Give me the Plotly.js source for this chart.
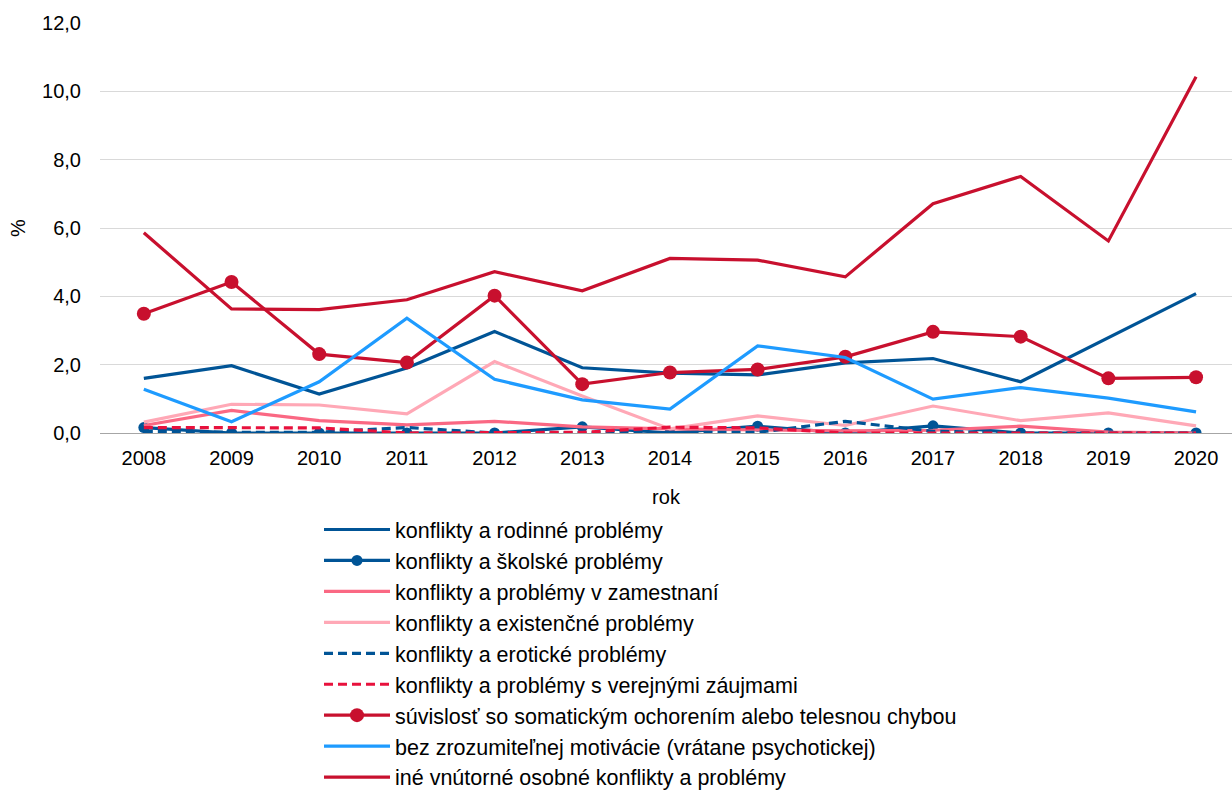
<!DOCTYPE html>
<html>
<head>
<meta charset="utf-8">
<script src="https://cdn.plot.ly/plotly-3.0.1.min.js"></script>
<style>
html,body{margin:0;padding:0;overflow:hidden;background:#fff;}
#chart{width:1232px;height:830px;}
</style>
</head>
<body>
<div id="chart"></div>
<script>
const years = ["2008","2009","2010","2011","2012","2013","2014","2015","2016","2017","2018","2019","2020"];

const rodinne      = [1.60, 1.97, 1.14, 1.90, 2.97, 1.91, 1.75, 1.70, 2.05, 2.18, 1.50, 2.80, 4.08];
const skolske      = [0.16, 0.00, 0.00, 0.00, 0.00, 0.18, 0.00, 0.20, 0.00, 0.21, 0.00, 0.00, 0.00];
const zamestnani   = [0.22, 0.66, 0.36, 0.24, 0.34, 0.18, 0.12, 0.08, 0.06, 0.08, 0.20, 0.03, 0.00];
const existencne   = [0.32, 0.84, 0.82, 0.56, 2.09, 1.08, 0.12, 0.50, 0.22, 0.79, 0.36, 0.59, 0.21];
const eroticke     = [0.05, 0.02, 0.02, 0.16, 0.00, 0.00, 0.00, 0.02, 0.34, 0.05, 0.00, 0.00, 0.00];
const verejne      = [0.16, 0.16, 0.15, 0.00, 0.00, 0.02, 0.17, 0.15, 0.00, 0.00, 0.00, 0.00, 0.00];
const somaticke    = [3.49, 4.42, 2.31, 2.06, 4.02, 1.43, 1.77, 1.86, 2.23, 2.96, 2.82, 1.60, 1.63];
const bezMotivacie = [1.28, 0.33, 1.50, 3.36, 1.57, 0.97, 0.70, 2.55, 2.21, 0.99, 1.33, 1.02, 0.62];
const ine          = [5.86, 3.63, 3.61, 3.90, 4.72, 4.16, 5.11, 5.06, 4.57, 6.71, 7.51, 5.62, 10.43];

const names = [
  "konflikty a rodinné problémy",
  "konflikty a školské problémy",
  "konflikty a problémy v zamestnaní",
  "konflikty a existenčné problémy",
  "konflikty a erotické problémy",
  "konflikty a problémy s verejnými záujmami",
  "súvislosť so somatickým ochorením alebo telesnou chybou",
  "bez zrozumiteľnej motivácie (vrátane psychotickej)",
  "iné vnútorné osobné konflikty a problémy"
];
const yTitle = "%";
const xTitle = "rok";

const DARKBLUE = "#005496", PINK = "#FA6883", LIGHTPINK = "#FFA8B6",
      REDDASH = "#E8113C", CRIMSON = "#C8102E", LIGHTBLUE = "#1E9BFF";

function tr(i, y, color, opts) {
  opts = opts || {};
  const t = {
    x: years, y: y, name: names[i], type: "scatter",
    mode: opts.marker ? "lines+markers" : "lines",
    line: {color: color, width: 3.2, dash: opts.dash || "solid"},
    legendgroup: "g" + i,
    hoverinfo: "skip"
  };
  if (opts.marker) t.marker = {color: color, size: opts.marker};
  return t;
}

const data = [
  tr(0, rodinne, DARKBLUE),
  tr(1, skolske, DARKBLUE, {marker: 11}),
  tr(2, zamestnani, PINK),
  tr(3, existencne, LIGHTPINK),
  tr(4, eroticke, DARKBLUE, {dash: "9px,5px"}),
  tr(5, verejne, REDDASH, {dash: "9px,5px"}),
  tr(6, somaticke, CRIMSON, {marker: 14}),
  tr(7, bezMotivacie, LIGHTBLUE),
  tr(8, ine, CRIMSON)
];

const layout = {
  width: 1232, height: 830,
  margin: {l: 100, r: 0, t: 23, b: 397, autoexpand: false},
  paper_bgcolor: "#fff", plot_bgcolor: "#fff",
  font: {family: "Liberation Sans, Arial, sans-serif", size: 20, color: "#000"},
  separators: ", ",
  showlegend: true,
  hovermode: false,
  xaxis: {
    type: "category",
    range: [-0.5, 12.41],
    showgrid: false, zeroline: false, showline: false,
    ticks: "", ticklabelstandoff: 11,
    tickfont: {size: 20, color: "#000"},
    title: {text: xTitle, font: {size: 20, color: "#000"}, standoff: 21}
  },
  yaxis: {
    range: [0, 12], tick0: 0, dtick: 2, tickformat: ".1f",
    showgrid: true, gridcolor: "#D9D9D9", gridwidth: 1,
    zeroline: true, zerolinecolor: "#A6A6A6", zerolinewidth: 1,
    showline: false, ticks: "", ticklabelstandoff: 18,
    tickfont: {size: 20, color: "#000"}
  },
  annotations: [{
    text: yTitle, xref: "paper", yref: "paper", x: 0, y: 0.5,
    xanchor: "center", yanchor: "middle", xshift: -82, textangle: -90,
    showarrow: false, font: {size: 20, color: "#000"}
  }],
  legend: {
    orientation: "v",
    x: 319/1232, xanchor: "left",
    y: 1 - 509/830, yanchor: "top",
    yref: "container", xref: "container",
    font: {size: 21.5, color: "#000"},
    itemwidth: 66,
    tracegroupgap: 1,
    bgcolor: "rgba(0,0,0,0)",
    traceorder: "normal"
  }
};

Plotly.newPlot("chart", data, layout, {displayModeBar: false, staticPlot: true});
</script>
</body>
</html>
